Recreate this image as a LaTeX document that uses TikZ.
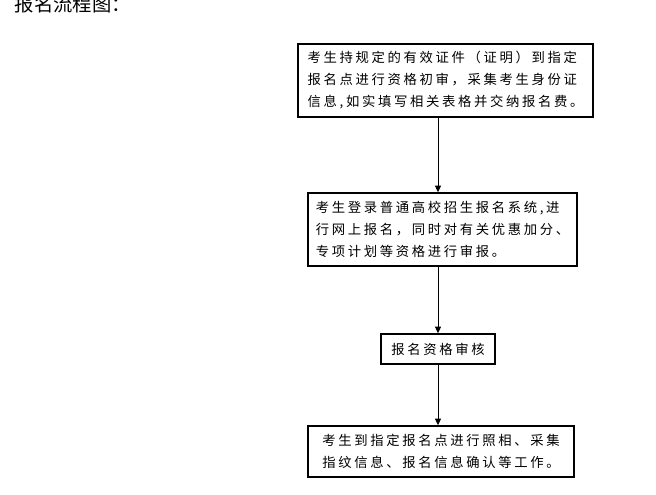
\documentclass[tikz,border=0pt]{standalone}
\usepackage{fontspec}
\usepackage{xcolor}
\setmainfont{Noto Sans CJK SC}
\newfontfamily\cjkbox[LetterSpace=20]{Noto Sans CJK SC}
\usetikzlibrary{arrows.meta, calc}

\begin{document}
\begin{tikzpicture}[x=0.75pt, y=-0.75pt, >={Triangle[length=5pt, width=4.5pt]},
  every node/.style={font=\cjkbox\fontsize{10pt}{16.5pt}\selectfont},
  procbox/.style={draw, line width=1.1pt, align=left, inner sep=0pt}]
  \useasboundingbox (0,0) rectangle (656,494);
  \node[anchor=base west, font=\fontsize{14.5pt}{16pt}\selectfont] (title) at (10,11) {报名流程图：};
  \node[procbox, minimum width=221.25pt, minimum height=54.75pt] (check) at (445.5,80.5) {考生持规定的有效证件（证明）到指定\\报名点进行资格初审，采集考生身份证\\信息,如实填写相关表格并交纳报名费。};
  \node[procbox, minimum width=201.75pt, minimum height=54.75pt] (online) at (442.5,229.5) {考生登录普通高校招生报名系统,进\\行网上报名，同时对有关优惠加分、\\专项计划等资格进行审报。};
  \node[procbox, minimum width=85.5pt, minimum height=22.5pt, align=center] (review) at (438,349) {报名资格审核};
  \node[procbox, minimum width=199.5pt, minimum height=38.25pt] (confirm) at (441,451.5) {考生到指定报名点进行照相、采集\\指纹信息、报名信息确认等工作。};
  \draw[->, line width=0.75pt] (check.south -| review) -- (online.north -| review);
  \draw[->, line width=0.75pt] (online.south -| review) -- (review.north);
  \draw[->, line width=0.75pt] (review.south) -- (confirm.north -| review);
\end{tikzpicture}
\end{document}
